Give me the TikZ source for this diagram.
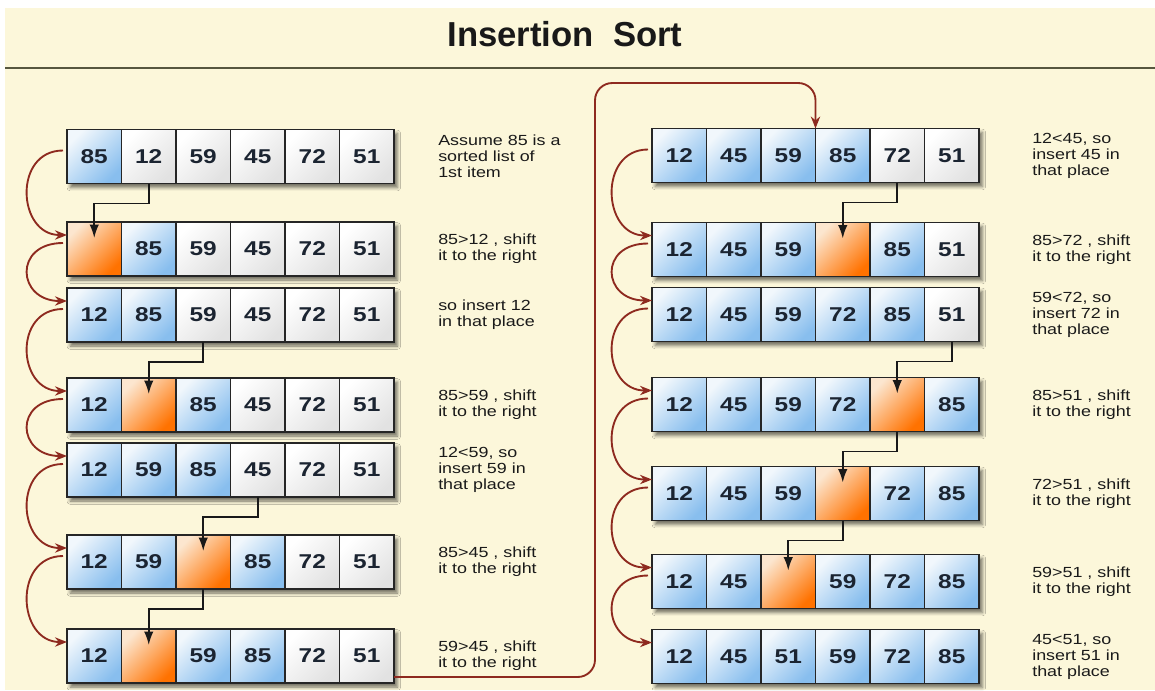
\documentclass[tikz,border=0pt]{standalone}
\usepackage{fontspec}
\setmainfont{Liberation Sans}
\newfontfamily\widefont[FakeStretch=1.22]{Liberation Sans}
\usetikzlibrary{positioning, calc, arrows.meta, shadows.blur}
\definecolor{cream}{HTML}{FCF7DA}
\definecolor{titlerule}{HTML}{57573F}
\definecolor{blpale}{HTML}{F1F7FC}
\definecolor{bldeep}{HTML}{88BEEE}
\definecolor{whpale}{HTML}{FFFFFF}
\definecolor{whdeep}{HTML}{E2E2E2}
\definecolor{orpale}{HTML}{FCE6CF}
\definecolor{ordeep}{HTML}{FF7200}
\definecolor{darkred}{HTML}{8E2A1F}
\definecolor{numink}{HTML}{1B2431}
\definecolor{textink}{HTML}{1A1A1A}
\tikzset{
	cell/.style={draw=black!85, line width=1.1pt, minimum width=40.875pt, minimum height=40.5pt,
		inner sep=0pt, outer sep=0pt, font=\widefont\fontsize{15}{17}\selectfont\bfseries\color{numink}}
}
\tikzset{
	desc/.style={anchor=west, align=left, inner sep=0pt, font=\widefont\fontsize{11}{12}\selectfont\color{textink}},
	titletext/.style={font=\fontsize{26}{30}\selectfont\bfseries\color{black!90}},
	rowshadow/.style={blur shadow={shadow xshift=2.5pt, shadow yshift=-3pt, shadow blur radius=2.5pt, shadow opacity=55}},
	redarrow/.style={draw=darkred, line width=1.4pt, -{Stealth[length=9pt,width=7pt]}},
	blkarrow/.style={draw=black!90, line width=1.3pt, -{Latex[length=10pt,width=7pt]}}
}
% name, left x, centre y, cells, text x, text
\newcommand{\sortrow}[6]{%
	\path[rowshadow] (#2,#3-27) rectangle ++(327,54);
	\foreach \val/\kind [count=\i] in {#4}
		\node[cell, left color=\kind pale, right color=\kind deep, shading angle=45]
			(#1-\i) at ({#2+54.5*\i-27.25},#3) {\val};
	\node[desc] (#1-t) at (#5,#3) {#6};
}

\begin{document}
\begin{tikzpicture}[x=0.75pt, y=0.75pt]
	\useasboundingbox (0,0) rectangle (1155,-690);
	\fill[white] (0,0) rectangle (1155,-690);
	\fill[cream] (5,-8) rectangle (1155,-690);
	\node[titletext] (title) at (565,-34.5) {Insertion\ \ Sort};
	\draw[titlerule, line width=2pt] (5,-68) -- (1155,-68);
	% left column
	\sortrow{L1}{67}{-156.5}{85/bl,12/wh,59/wh,45/wh,72/wh,51/wh}{438}{Assume 85 is a\\sorted list of\\1st item}
	\sortrow{L2}{67}{-249}{{}/or,85/bl,59/wh,45/wh,72/wh,51/wh}{438}{85>12 , shift\\it to the right}
	\sortrow{L3}{67}{-315}{12/bl,85/bl,59/wh,45/wh,72/wh,51/wh}{438}{so insert 12\\in that place}
	\sortrow{L4}{67}{-405}{12/bl,{}/or,85/bl,45/wh,72/wh,51/wh}{438}{85>59 , shift\\it to the right}
	\sortrow{L5}{67}{-470}{12/bl,59/bl,85/bl,45/wh,72/wh,51/wh}{438}{12<59, so\\insert 59 in\\that place}
	\sortrow{L6}{67}{-562}{12/bl,59/bl,{}/or,85/bl,72/wh,51/wh}{438}{85>45 , shift\\it to the right}
	\sortrow{L7}{67}{-656}{12/bl,{}/or,59/bl,85/bl,72/wh,51/wh}{438}{59>45 , shift\\it to the right}
	% right column
	\sortrow{R1}{652}{-155.5}{12/bl,45/bl,59/bl,85/bl,72/wh,51/wh}{1032}{12<45, so\\insert 45 in\\that place}
	\sortrow{R2}{652}{-249.5}{12/bl,45/bl,59/bl,{}/or,85/bl,51/wh}{1032}{85>72 , shift\\it to the right}
	\sortrow{R3}{652}{-314.5}{12/bl,45/bl,59/bl,72/bl,85/bl,51/wh}{1032}{59<72, so\\insert 72 in\\that place}
	\sortrow{R4}{652}{-404.5}{12/bl,45/bl,59/bl,72/bl,{}/or,85/bl}{1032}{85>51 , shift\\it to the right}
	\sortrow{R5}{652}{-493.5}{12/bl,45/bl,59/bl,{}/or,72/bl,85/bl}{1032}{72>51 , shift\\it to the right}
	\sortrow{R6}{652}{-581.5}{12/bl,45/bl,{}/or,59/bl,72/bl,85/bl}{1032}{59>51 , shift\\it to the right}
	\sortrow{R7}{652}{-656.5}{12/bl,45/bl,51/bl,59/bl,72/bl,85/bl}{1032}{45<51, so\\insert 51 in\\that place}
	% step to step
	\foreach \a/\b in {1/2,2/3,3/4,4/5,5/6,6/7}{
		\draw[redarrow] ($(L\a-1.west)+(-4,6)$) .. controls +(-50,0) and +(-50,0) .. ($(L\b-1.west)+(0,14)$);
		\draw[redarrow] ($(R\a-1.west)+(-4,6)$) .. controls +(-50,0) and +(-50,0) .. ($(R\b-1.west)+(0,14)$);
	}
	% moved item
	\foreach \s/\t in {L1-2/L2-1, L3-3/L4-2, L5-4/L6-3, L6-3/L7-2, R1-5/R2-4, R3-6/R4-5, R4-5/R5-4, R5-4/R6-3}
		\draw[blkarrow] (\s.south) -- ++(0,-20) -| ($(\t.north)+(0,-16)$);
	% over to the second column
	\coordinate (bend) at (595,-83);
	\draw[redarrow, rounded corners=13pt] ($(L7-6.east)+(0,-21)$) -| (bend) -| (R1-3.north east);
\end{tikzpicture}
\end{document}
